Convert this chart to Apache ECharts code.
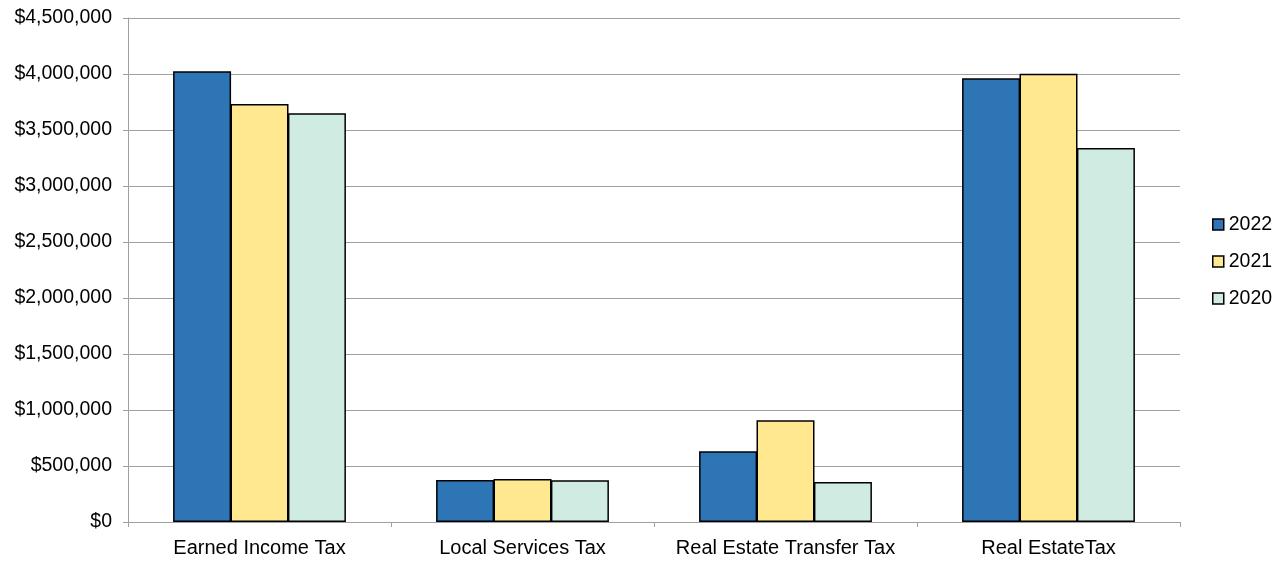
<!DOCTYPE html>
<html><head><meta charset="utf-8">
<script src="https://cdn.jsdelivr.net/npm/echarts@6/dist/echarts.min.js"></script>
<style>html,body{margin:0;padding:0;background:#fff}#c{width:1286px;height:561px}</style>
</head><body><div id="c"></div>
<script>
var categories = ['Earned Income Tax', 'Local Services Tax', 'Real Estate Transfer Tax', 'Real EstateTax'];
var seriesNames = ['2022', '2021', '2020'];
var values2022 = [4025000, 375000, 631000, 3962000];
var values2021 = [3732000, 384000, 908000, 4003000];
var values2020 = [3649000, 372000, 357000, 3339000];
var colors = ['#2E75B6', '#FFE88F', '#D0EBE2'];

var chart = echarts.init(document.getElementById('c'));
var data = [values2022, values2021, values2020];
var font = 'Liberation Sans, Arial, sans-serif';
chart.setOption({
  animation: false,
  grid: {left: 128, right: 106, top: 18, bottom: 39, containLabel: false},
  legend: {
    orient: 'vertical', left: 1212, top: 214, itemGap: 16, padding: 0,
    icon: 'rect', itemWidth: 11, itemHeight: 11,
    textStyle: {fontFamily: font, fontSize: 19.5, color: '#000', lineHeight: 21, padding: [0, 0, 0, 0]},
    itemStyle: {borderColor: '#000', borderWidth: 1.5},
    data: seriesNames
  },
  xAxis: {
    type: 'category', data: categories,
    axisLine: {lineStyle: {color: '#a0a0a0', width: 1}},
    axisTick: {show: true, length: 5, lineStyle: {color: '#a0a0a0'}},
    axisLabel: {fontFamily: font, fontSize: 20, color: '#000', margin: 16, interval: 0}
  },
  yAxis: {
    type: 'value', min: 0, max: 4500000, interval: 500000,
    axisLine: {show: true, lineStyle: {color: '#a0a0a0', width: 1}},
    axisTick: {show: true, length: 5, lineStyle: {color: '#a0a0a0'}},
    splitLine: {lineStyle: {color: '#a0a0a0', width: 1}},
    axisLabel: {fontFamily: font, fontSize: 19.5, color: '#000', margin: 16,
      formatter: function (v) { return '$' + v.toLocaleString('en-US'); }}
  },
  series: seriesNames.map(function (n, i) {
    return {
      name: n, type: 'bar', data: data[i], barWidth: 58, barGap: '-1%',
      itemStyle: {color: colors[i], borderColor: '#000', borderWidth: 1.5}
    };
  })
});
</script></body></html>
